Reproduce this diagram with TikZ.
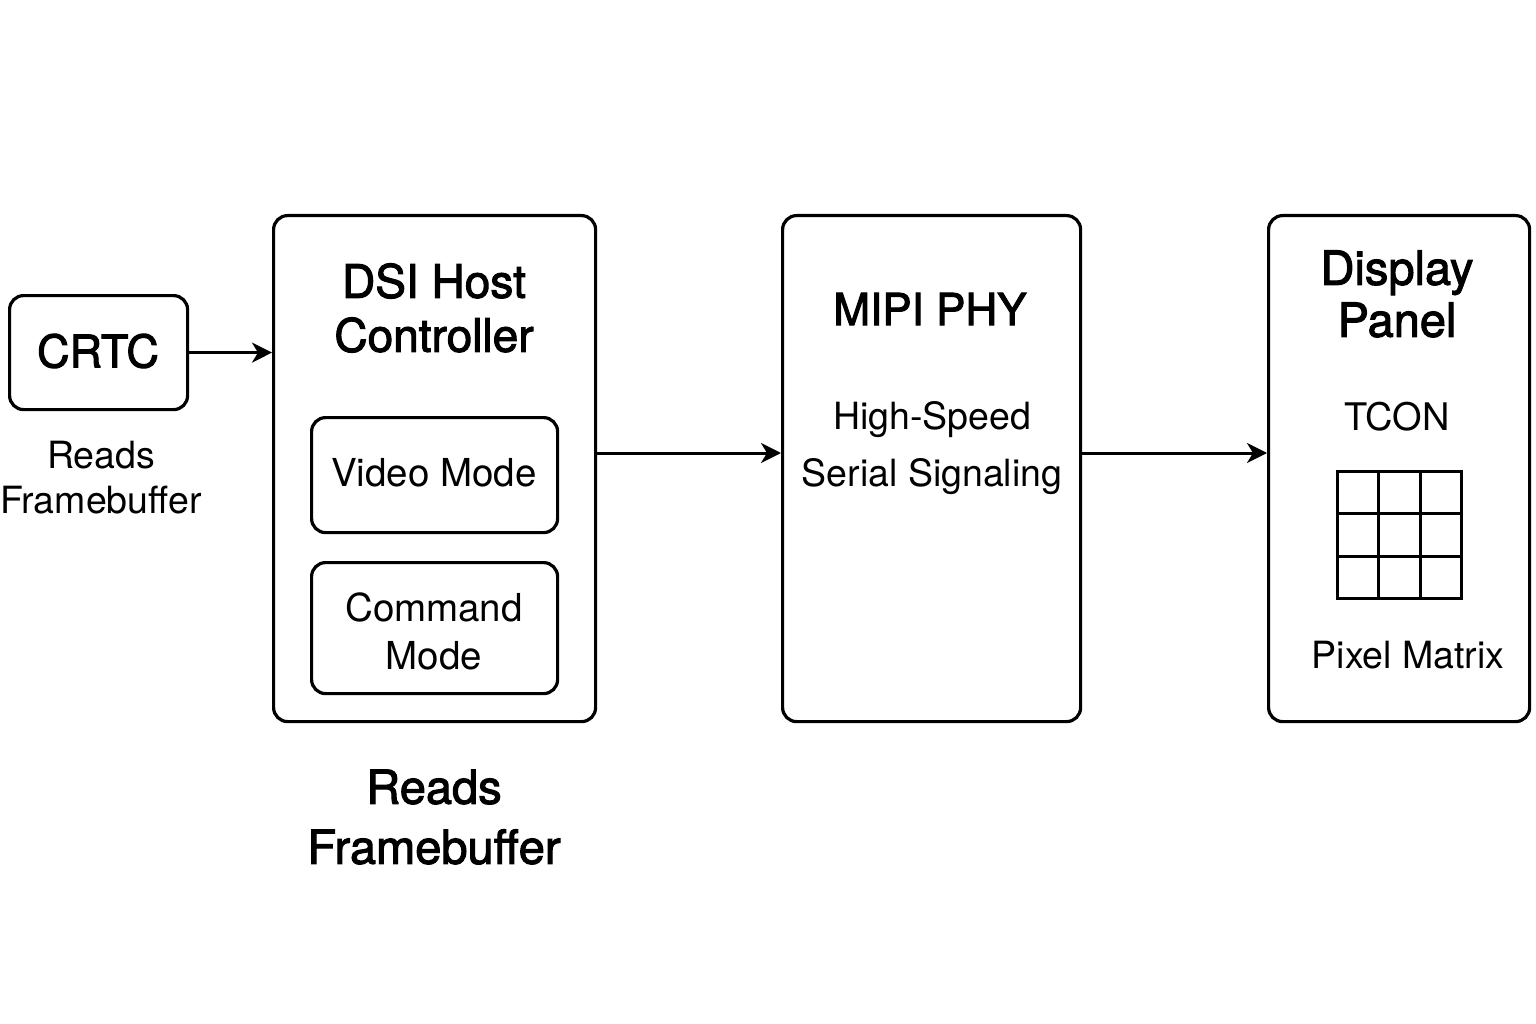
\documentclass[tikz,border=0pt]{standalone}
\usepackage{fontspec}
\setmainfont{TeX Gyre Heros}
\newfontfamily\medfont[FakeBold=2.2]{TeX Gyre Heros}
\usetikzlibrary{arrows.meta,calc}
\begin{document}
\begin{tikzpicture}[x=1pt,y=-1pt,
  box/.style={draw,line width=3.2pt,rounded corners=14pt},
  conn/.style={line width=3pt,-{Stealth[length=20pt,width=20pt,inset=6pt]}},
  lbl/.style={align=center,inner sep=0pt}]
\useasboundingbox (0,0) rectangle (1536,1024);
% boxes
\node[box,minimum width=178pt,minimum height=114pt,anchor=north west] (crtc) at (8,294) {};
\node[box,minimum width=322pt,minimum height=506pt,anchor=north west] (dsi) at (272,214) {};
\node[box,minimum width=246pt,minimum height=115pt,anchor=north west] (video) at (310,416) {};
\node[box,minimum width=246pt,minimum height=131pt,anchor=north west] (cmd) at (310,561) {};
\node[box,minimum width=298pt,minimum height=506pt,anchor=north west] (mipi) at (781,214) {};
\node[box,minimum width=261pt,minimum height=506pt,anchor=north west] (disp) at (1267,214) {};
% texts
\node[lbl,font=\medfont\fontsize{45}{54}\selectfont] (crtct) at (98,351) {CRTC};
\node[lbl,font=\fontsize{37.5}{45}\selectfont] (crtcr) at (101,478) {Reads\\Framebuffer};
\node[lbl,font=\medfont\fontsize{46}{54}\selectfont] (dsit) at (434,308) {DSI Host\\Controller};
\node[lbl,font=\fontsize{38.5}{45}\selectfont] (videot) at (434,473) {Video Mode};
\node[lbl,font=\fontsize{38.5}{48}\selectfont] (cmdt) at (434,631) {Command\\Mode};
\node[lbl,font=\medfont\fontsize{47}{60}\selectfont] (dsir) at (434,817) {Reads\\Framebuffer};
\node[lbl,font=\medfont\fontsize{44}{54}\selectfont] (mipit) at (930,309) {MIPI PHY};
\node[lbl,font=\fontsize{37.5}{57}\selectfont] (mipis) at (932,448) {High-Speed\\Serial Signaling};
\node[lbl,font=\medfont\fontsize{47}{52}\selectfont] (dispt) at (1397,294) {Display\\Panel};
\node[lbl,font=\fontsize{38}{44}\selectfont] (tcon) at (1397,417) {TCON};
\node[lbl,font=\fontsize{37.5}{44}\selectfont] (pix) at (1408,655) {Pixel Matrix};
% pixel grid
\node[draw,line width=3.2pt,minimum width=124pt,minimum height=127pt,inner sep=0pt,anchor=north west] (grid) at (1336,470) {};
\tikzset{gl/.style={line width=3pt}}
\draw[gl] ($(grid.north west)!1/3!(grid.north east)$) -- ($(grid.south west)!1/3!(grid.south east)$);
\draw[gl] ($(grid.north west)!2/3!(grid.north east)$) -- ($(grid.south west)!2/3!(grid.south east)$);
\draw[gl] ($(grid.north west)!1/3!(grid.south west)$) -- ($(grid.north east)!1/3!(grid.south east)$);
\draw[gl] ($(grid.north west)!2/3!(grid.south west)$) -- ($(grid.north east)!2/3!(grid.south east)$);
% connectors
\draw[conn] (crtc.east) -- (dsi.west |- crtc.east);
\coordinate (a1) at (597,453);
\draw[conn] (a1) -- (mipi.west |- a1);
\draw[conn] (mipi.east |- a1) -- (disp.west |- a1);
\end{tikzpicture}
\end{document}
